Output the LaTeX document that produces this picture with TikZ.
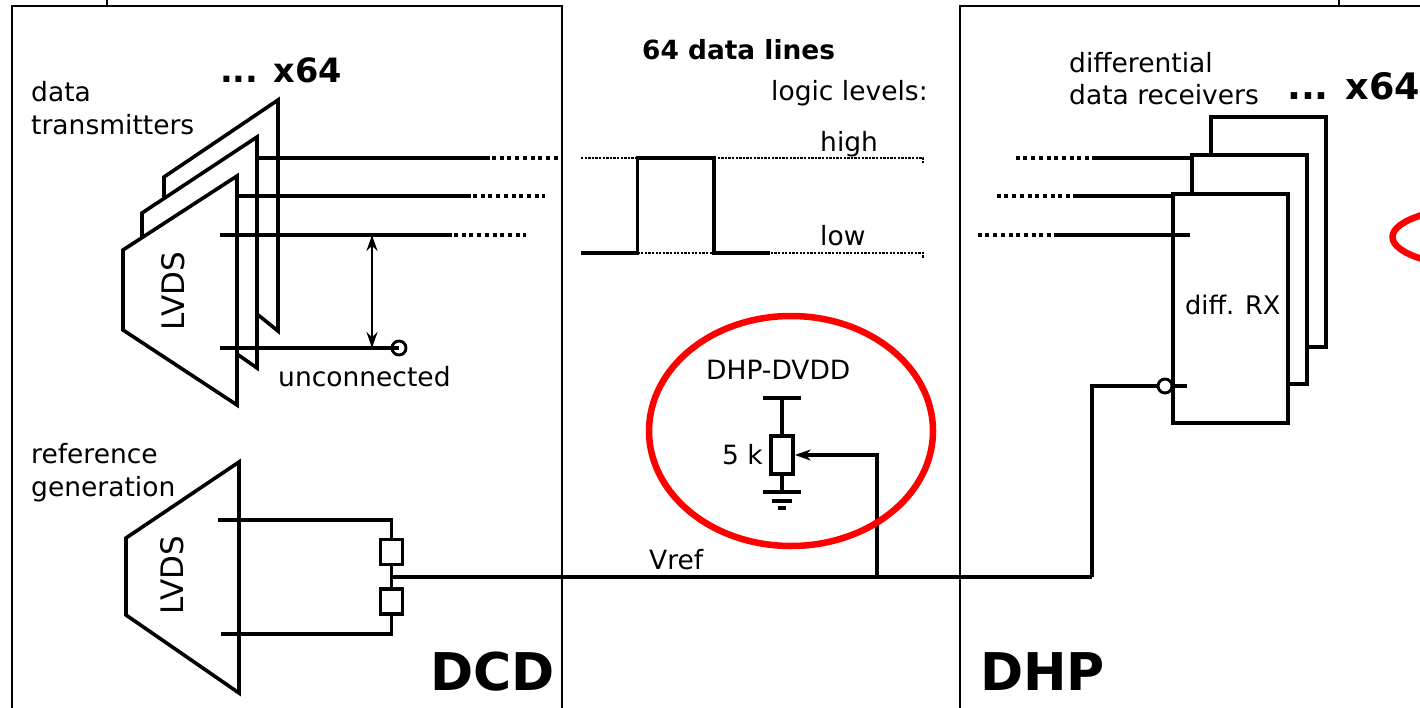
\documentclass[tikz,border=0pt]{standalone}
\usepackage{fontspec}
\setmainfont{DejaVu Sans}
\usepackage{tikz}
\usetikzlibrary{arrows.meta}

\begin{document}
\begin{tikzpicture}[x=1pt,y=-1pt]
    \tikzstyle{every node}=[inner sep=0,anchor=base west,font=\fontsize{26.5}{26.5}\selectfont];
    \tikzstyle{wire}=[line width=3.6,line join=miter];
    \tikzstyle{frame}=[line width=2.9];
    \tikzstyle{dots}=[line width=3.4,dash pattern=on 4 off 3.7];
    \tikzstyle{fine}=[line width=2.6,dash pattern=on 2.3 off 1.3];
    \tikzstyle{res}=[draw,line width=3.6,fill=white,anchor=center];
    \tikzstyle{open}=[draw,circle,line width=2.9,fill=white,anchor=center,minimum size=14];
    \tikzstyle{big}=[font=\fontsize{52}{52}\selectfont\bfseries];
    \tikzstyle{lvds}=[rotate=90,anchor=center,font=\fontsize{31}{31}\selectfont];
    \clip (0,0) rectangle (1420,708);

    % chip outlines
    \draw[frame] (12,708) -- (12,6) -- (562,6) -- (562,708);
    \draw[frame] (960,708) -- (960,6) -- (1420,6);
    \draw[frame] (107,0) -- (107,6);
    \draw[frame] (1339,0) -- (1339,6);

    % transmitters
    \draw[wire] (237,176) -- (123,250) -- (123,330) -- (237,405) -- cycle;
    \draw[wire] (142,238) -- (142,213) -- (257,137) -- (257,368) -- (237,354);
    \draw[wire] (164,197) -- (164,177) -- (278,100) -- (278,331) -- (257,314);
    \node[lvds] (lvdsA) at (173,291) {LVDS};
    \coordinate (txA) at (258,158);
    \coordinate (txAend) at (490,158);
    \coordinate (txAfar) at (560,158);
    \coordinate (txB) at (238,196);
    \coordinate (txBend) at (471,196);
    \coordinate (txBfar) at (545,196);
    \coordinate (txC) at (220,235);
    \coordinate (txCend) at (452,235);
    \coordinate (txCfar) at (526,235);
    \coordinate (txD) at (220,348);
    \coordinate (txDmid) at (372,348);
    \coordinate (txCmid) at (372,235);
    \node[open] (nc) at (399,348) {};
    \draw[wire] (txA) -- (txAend)
          (txB) -- (txBend)
          (txC) -- (txCend)
          (txD) -- (nc.center);
    \draw[dots] (txAend) ++(2,0) -- (txAfar);
    \draw[dots] (txBend) ++(2,0) -- (txBfar);
    \draw[dots] (txCend) ++(2,0) -- (txCfar);
    \draw[{Stealth[length=16,width=11]}-{Stealth[length=16,width=11]},line width=2.2] (txCmid) -- (txDmid);

    % reference generation
    \draw[wire] (239,462) -- (126,538) -- (126,615) -- (239,693) -- cycle;
    \node[lvds] (lvdsB) at (172,575) {LVDS};
    \node[res,minimum width=22,minimum height=25] (rUp) at (391.5,552) {};
    \node[res,minimum width=22,minimum height=25] (rDown) at (391.5,601.5) {};
    \coordinate (refA) at (218,520);
    \coordinate (refB) at (221,634);
    \coordinate (vrefL) at (391.5,577);
    \coordinate (vrefJ) at (877,577);
    \coordinate (vrefR) at (1092,577);
    \draw[wire] (refA) -| (rUp)
          (refB) -| (rDown)
          (rUp) -- (rDown)
          (vrefL) -- (vrefR);

    % waveform and levels
    \coordinate (lowA) at (581,253);
    \coordinate (lowB) at (637.5,253);
    \coordinate (highA) at (637.5,158);
    \coordinate (highB) at (714,158);
    \coordinate (lowC) at (714,253);
    \coordinate (lowD) at (770,253);
    \coordinate (highL) at (581,158);
    \coordinate (highR) at (923,158);
    \coordinate (highT) at (923,163);
    \coordinate (lowR) at (923,253);
    \coordinate (lowT) at (923,258);
    \draw[fine] (highL) -- (highA)
          (highB) -- (highR) -- (highT)
          (lowB) -- (lowR) -- (lowT);
    \draw[wire] (lowA) -- (lowB) -- (highA) -- (highB) -- (lowC) -- (lowD);

    % pull-up
    \node[res,minimum width=22,minimum height=38] (rPot) at (782,455) {};
    \coordinate (vddL) at (763,398);
    \coordinate (vddR) at (801,398);
    \coordinate (vddM) at (782,398);
    \coordinate (gndM) at (782,492);
    \coordinate (gndL) at (763,492);
    \coordinate (gndR) at (801,492);
    \coordinate (gndLb) at (772,501);
    \coordinate (gndRb) at (792,501);
    \coordinate (gndLc) at (778,508);
    \coordinate (gndRc) at (786,508);
    \draw[wire] (vddL) -- (vddR)
          (vddM) -- (rPot)
          (rPot) -- (gndM)
          (gndL) -- (gndR)
          (gndLb) -- (gndRb)
          (gndLc) -- (gndRc);
    \draw[wire,-{Stealth[length=16,width=11]}] (vrefJ) |- (rPot.east);
    \draw[red,line width=6.5] (791,431) ellipse (142 and 115);
    \draw[red,line width=6.5] (1492.5,237) ellipse (100 and 31);

    % receivers
    \draw[wire] (1211,155) -- (1211,117) -- (1326,117) -- (1326,347) -- (1307,347);
    \draw[wire] (1192,194) -- (1192,155) -- (1307,155) -- (1307,384) -- (1288,384);
    \node[draw,line width=3.6,anchor=center,minimum width=115,minimum height=229] (rxBox) at (1230.5,308.5) {};
    \coordinate (rxA) at (1192,158);
    \coordinate (rxAend) at (1092,158);
    \coordinate (rxAfar) at (1015,158);
    \coordinate (rxB) at (1173,196);
    \coordinate (rxBend) at (1073,196);
    \coordinate (rxBfar) at (996,196);
    \coordinate (rxC) at (1190,235);
    \coordinate (rxCend) at (1054,235);
    \coordinate (rxCfar) at (977,235);
    \coordinate (rxD) at (1187,386);
    \coordinate (rxDtop) at (1092,386);
    \draw[wire] (rxA) -- (rxAend)
          (rxB) -- (rxBend)
          (rxC) -- (rxCend)
          (vrefR) -- (rxDtop) -- (rxD);
    \draw[dots] (rxAend) ++(-3,0) -- (rxAfar);
    \draw[dots] (rxBend) ++(-3,0) -- (rxBfar);
    \draw[dots] (rxCend) ++(-3,0) -- (rxCfar);
    \node[open] (inv) at (1165,386) {};

    % labels
    \node (txtA) at (31,102) {data};
    \node (txtB) at (31,135) {transmitters};
    \node[font=\fontsize{33.5}{33.5}\selectfont\bfseries] (nA) at (220,83) {... x64};
    \node (txtC) at (278,386) {unconnected};
    \node (txtD) at (31,463) {reference};
    \node (txtE) at (31,496) {generation};
    \node[big] (dcd) at (430,690) {DCD};
    \node[font=\fontsize{26.4}{26.4}\selectfont\bfseries] (head) at (642,60) {64 data lines};
    \node (levels) at (771,101) {logic levels:};
    \node (high) at (820,152) {high};
    \node (low) at (820,246) {low};
    \node (dvdd) at (706,379) {DHP-DVDD};
    \node (val) at (722,464) {5 k};
    \node (vref) at (649,569) {Vref};
    \node (txtF) at (1069,73) {differential};
    \node (txtG) at (1069,105) {data receivers};
    \node[font=\fontsize{36.5}{36.5}\selectfont\bfseries] (nB) at (1287,100) {... x64};
    \node[font=\fontsize{25.6}{25.6}\selectfont] (rxTxt) at (1185,314) {diff. RX};
    \node[big] (dhp) at (980,690) {DHP};
\end{tikzpicture}
\end{document}
